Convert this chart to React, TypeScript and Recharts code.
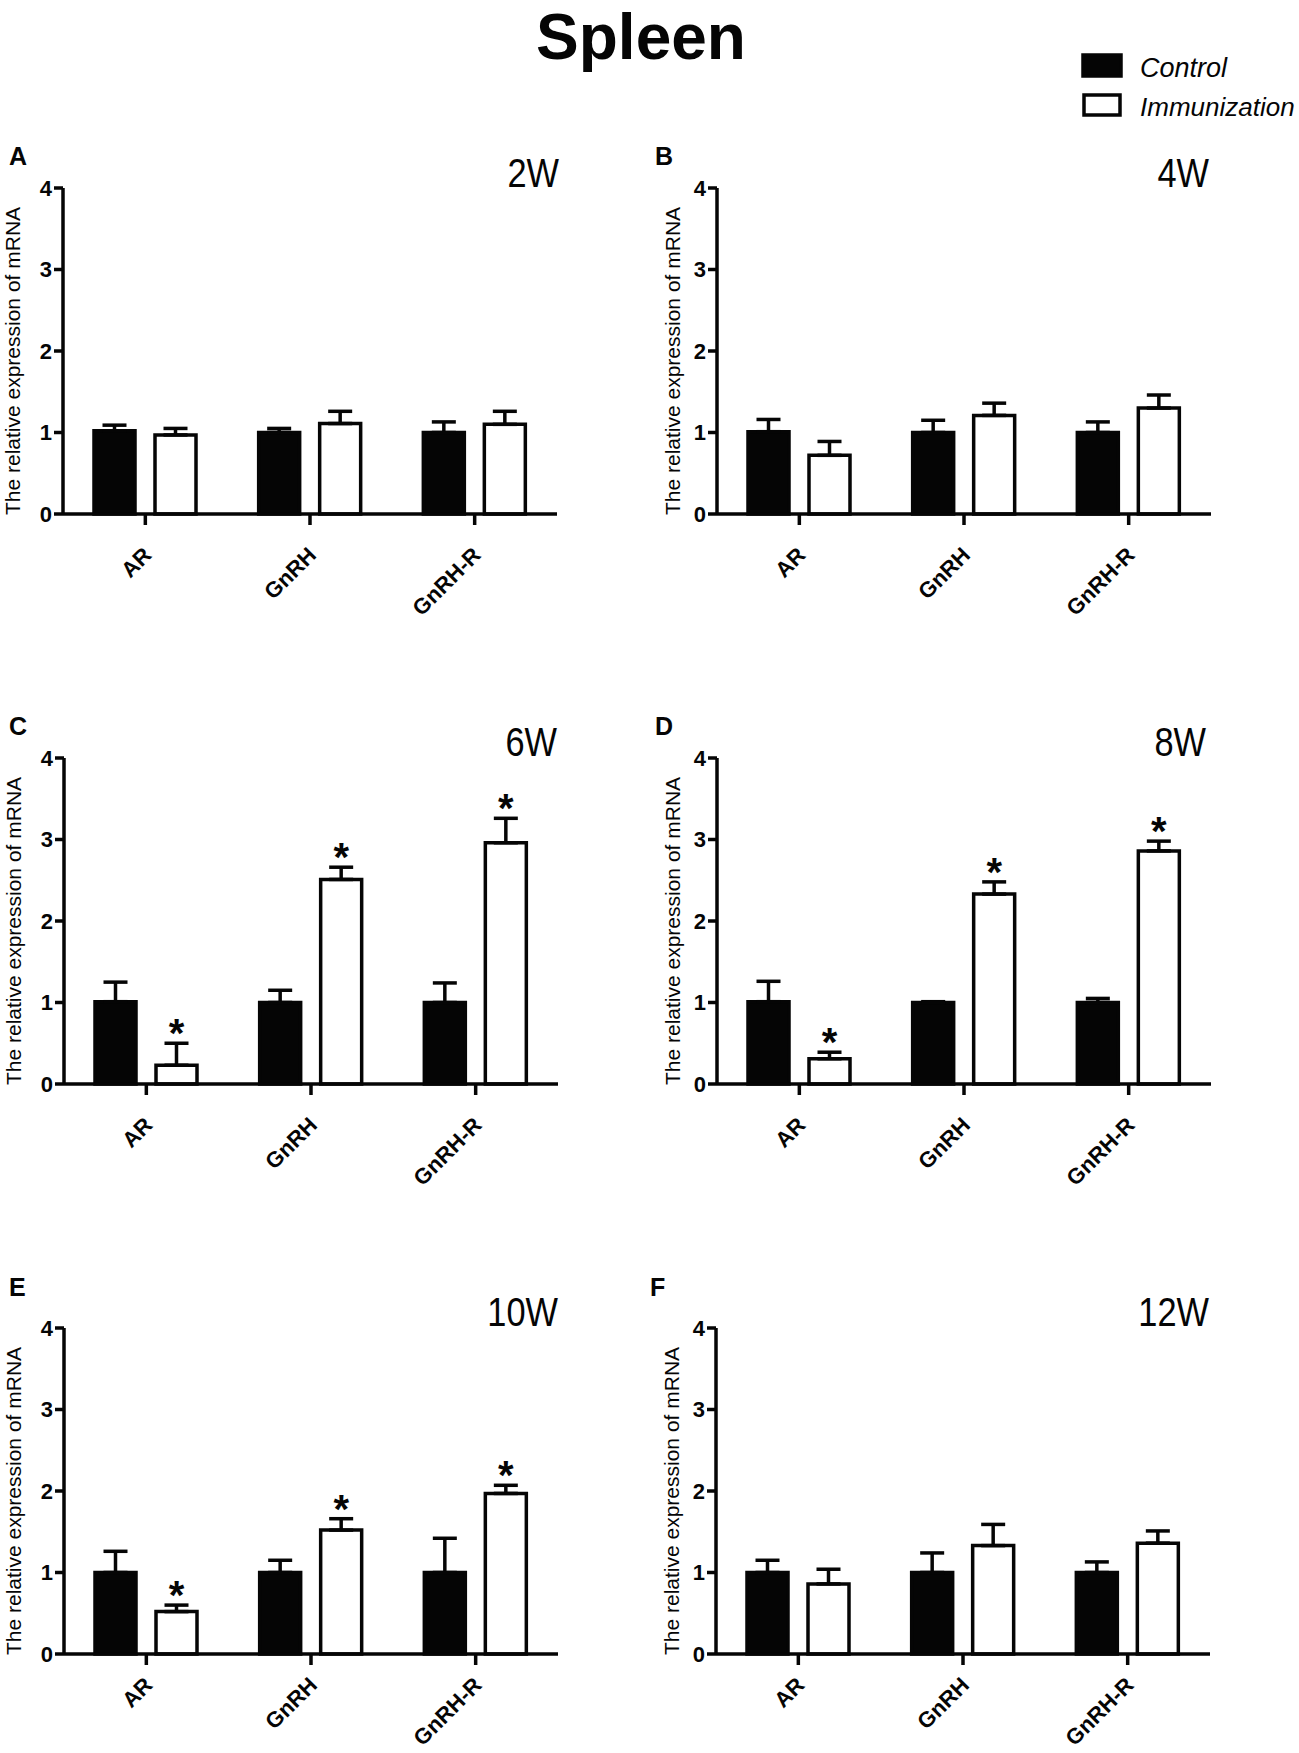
import React from "react";
import { BarChart, Bar, XAxis, YAxis, ErrorBar, LabelList } from "recharts";

const GENES = ["AR", "GnRH", "GnRH-R"];
const PANEL_IDS = ["A", "B", "C", "D", "E", "F"];
const WEEKS = ["2W", "4W", "6W", "8W", "10W", "12W"];
const Y_TICKS = [0, 1, 2, 3, 4];

// one row per week, one value per gene (AR, GnRH, GnRH-R)
const CONTROL_MEAN = [
  [1.02, 1.0, 1.0],
  [1.01, 1.0, 1.0],
  [1.01, 1.0, 1.0],
  [1.01, 1.0, 1.0],
  [1.0, 1.0, 1.0],
  [1.0, 1.0, 1.0],
];
const CONTROL_SEM = [
  [0.07, 0.05, 0.13],
  [0.15, 0.15, 0.13],
  [0.24, 0.15, 0.24],
  [0.25, 0.01, 0.05],
  [0.26, 0.15, 0.42],
  [0.15, 0.24, 0.13],
];
const IMMUN_MEAN = [
  [0.97, 1.11, 1.1],
  [0.72, 1.21, 1.3],
  [0.23, 2.51, 2.96],
  [0.31, 2.33, 2.86],
  [0.52, 1.52, 1.97],
  [0.86, 1.33, 1.36],
];
const IMMUN_SEM = [
  [0.08, 0.15, 0.16],
  [0.17, 0.15, 0.16],
  [0.27, 0.15, 0.3],
  [0.08, 0.15, 0.12],
  [0.08, 0.14, 0.1],
  [0.18, 0.26, 0.15],
];
const SIGNIFICANT = [
  [false, false, false],
  [false, false, false],
  [true, true, true],
  [true, true, true],
  [true, true, true],
  [false, false, false],
];

// layout of the 2x3 grid
const CHART_POS = [
  { left: 0, top: 130 },
  { left: 654, top: 130 },
  { left: 1, top: 700 },
  { left: 654, top: 700 },
  { left: 1, top: 1270 },
  { left: 653, top: 1270 },
];
const LETTER_POS = [
  [9, 165],
  [655, 165],
  [9, 735],
  [655, 735],
  [9, 1296],
  [650, 1296],
];
const WEEK_POS = [
  [559, 187],
  [1209, 187],
  [557, 756],
  [1206, 756],
  [558, 1326],
  [1209, 1326],
];

const INK = "#050505";
const LINE = 3.5;
const SANS = "'Liberation Sans', Arial, Helvetica, sans-serif";

function buildData(w: number) {
  return GENES.map((gene, i) => ({
    gene,
    control: CONTROL_MEAN[w][i],
    controlErr: [0, CONTROL_SEM[w][i]],
    immun: IMMUN_MEAN[w][i],
    immunErr: [0, IMMUN_SEM[w][i]],
  }));
}

function makeGeneTick(drop: number) {
  return function GeneTick(props: any) {
    const { x, y, payload } = props;
    return (
      <text
        transform={`translate(${x + 2},${y + drop}) rotate(-45)`}
        textAnchor="end"
        dy="0.35em"
        fontSize={22}
        fontWeight="bold"
        fill={INK}
      >
        {payload.value}
      </text>
    );
  };
}

function renderStar(p: any, w: number) {
  const vb = p.viewBox || p;
  const i = p.index;
  if (i == null || !SIGNIFICANT[w][i]) return null;
  const mean = IMMUN_MEAN[w][i];
  const perUnit = vb.height / mean;
  const capY = vb.y - IMMUN_SEM[w][i] * perUnit;
  return (
    <text
      key={`star-${i}`}
      x={vb.x + vb.width / 2}
      y={capY + 4}
      textAnchor="middle"
      fontSize={40}
      fontWeight="bold"
      fill={INK}
    >
      *
    </text>
  );
}

function Panel({ w }: { w: number }) {
  const data = buildData(w);
  const rightCol = w % 2 === 1;
  const labelGap = rightCol ? 37 : 43;
  const GeneTick = makeGeneTick(w >= 4 ? 14 : 24);
  return (
    <div style={{ position: "absolute", left: CHART_POS[w].left, top: CHART_POS[w].top }}>
      <BarChart
        width={597}
        height={w >= 4 ? 483 : 494}
        data={data}
        margin={{ top: 58, right: 40, bottom: 0, left: 0 }}
        barSize={41}
        barGap={20}
      >
        <XAxis
          dataKey="gene"
          interval={0}
          height={w >= 4 ? 99 : 110}
          tickSize={11}
          axisLine={{ stroke: INK, strokeWidth: LINE }}
          tickLine={{ stroke: INK, strokeWidth: LINE }}
          tick={<GeneTick />}
        />
        <YAxis
          domain={[0, 4]}
          ticks={Y_TICKS}
          width={63}
          tickSize={9}
          axisLine={{ stroke: INK, strokeWidth: LINE }}
          tickLine={{ stroke: INK, strokeWidth: LINE }}
          tick={{ fill: INK, fontSize: 22, fontWeight: "bold" }}
          label={{
            content: (lp: any) => {
              const vb = lp.viewBox;
              const bx = vb.x + vb.width - labelGap;
              const cy = vb.y + vb.height / 2 + 10;
              return (
                <text
                  transform={`translate(${bx},${cy}) rotate(-90)`}
                  textAnchor="middle"
                  fontSize={21}
                  fill={INK}
                >
                  The relative expression of mRNA
                </text>
              );
            },
          }}
        />
        <Bar dataKey="control" fill={INK} stroke={INK} strokeWidth={LINE} isAnimationActive={false}>
          <ErrorBar dataKey="controlErr" direction="y" width={12} stroke={INK} strokeWidth={LINE} />
        </Bar>
        <Bar dataKey="immun" fill="#ffffff" stroke={INK} strokeWidth={LINE} isAnimationActive={false}>
          <ErrorBar dataKey="immunErr" direction="y" width={12} stroke={INK} strokeWidth={LINE} />
          <LabelList dataKey="immun" content={(p: any) => renderStar(p, w)} />
        </Bar>
      </BarChart>
    </div>
  );
}

export default function App() {
  return (
    <div
      style={{
        position: "absolute",
        left: 0,
        top: 0,
        width: 1299,
        height: 1753,
        background: "#ffffff",
        fontFamily: SANS,
      }}
    >
      {WEEKS.map((_, w) => (
        <Panel key={w} w={w} />
      ))}
      <svg
        width={1299}
        height={1753}
        style={{ position: "absolute", left: 0, top: 0, pointerEvents: "none" }}
      >
        <text x={641} y={59} textAnchor="middle" fontSize={64} fontWeight="bold" fill={INK} fontFamily={SANS}>
          Spleen
        </text>
        <rect x={1083} y={55} width={38} height={21} fill={INK} stroke={INK} strokeWidth={LINE} />
        <text x={1140} y={77} fontSize={27} fontStyle="italic" fill={INK} fontFamily={SANS}>
          Control
        </text>
        <rect x={1084} y={95} width={36} height={20} fill="#ffffff" stroke={INK} strokeWidth={LINE} />
        <text x={1140} y={116} fontSize={26} fontStyle="italic" fill={INK} fontFamily={SANS}>
          Immunization
        </text>
        {PANEL_IDS.map((id, w) => (
          <text
            key={id}
            x={LETTER_POS[w][0]}
            y={LETTER_POS[w][1]}
            fontSize={25}
            fontWeight="bold"
            fill={INK}
            fontFamily={SANS}
          >
            {id}
          </text>
        ))}
        {WEEKS.map((wk, w) => (
          <text
            key={wk}
            transform={`translate(${WEEK_POS[w][0]},${WEEK_POS[w][1]}) scale(0.86,1)`}
            textAnchor="end"
            fontSize={40}
            fill={INK}
            fontFamily={SANS}
          >
            {wk}
          </text>
        ))}
      </svg>
    </div>
  );
}
